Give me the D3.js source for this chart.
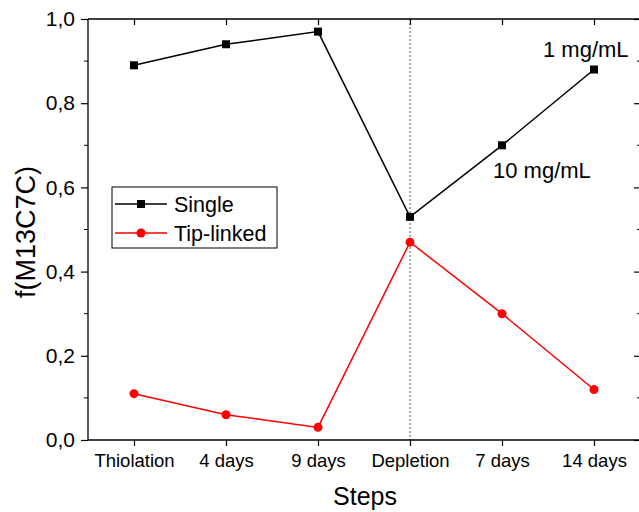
<!DOCTYPE html>
<html>
<head>
<meta charset="utf-8">
<script src="https://cdn.jsdelivr.net/npm/d3@7"></script>
<style>
  body { margin: 0; background: #fff; }
  svg { font-family: "Liberation Sans", Arial, sans-serif; }
</style>
</head>
<body>
<svg width="639" height="512"></svg>
<script>
const steps = ['Thiolation', '4 days', '9 days', 'Depletion', '7 days', '14 days'];
const single = [0.89, 0.94, 0.97, 0.53, 0.70, 0.88];
const tipLinked = [0.11, 0.06, 0.03, 0.47, 0.30, 0.12];
const yMajor = [0, 0.2, 0.4, 0.6, 0.8, 1.0];
const yMinor = [0.1, 0.3, 0.5, 0.7, 0.9];

const margin = {left: 88, top: 19, right: 640, bottom: 440};
let svg = d3.select('svg');

let x = d3.scalePoint()
  .domain(steps)
  .range([margin.left, margin.right])
  .padding(0.5);
let y = d3.scaleLinear()
  .domain([0, 1])
  .range([margin.bottom, margin.top]);

const fmt = d => d3.format('.1f')(d).replace('.', ',');

// dotted line at depletion
svg.append('line')
  .attr('x1', x('Depletion')).attr('x2', x('Depletion'))
  .attr('y1', margin.top).attr('y2', margin.bottom)
  .attr('stroke', '#555')
  .attr('stroke-width', 1)
  .attr('stroke-dasharray', '2,2');

// axes
let axisL = svg.append('g')
  .attr('transform', `translate(${margin.left},0)`)
  .call(d3.axisLeft(y).tickValues(yMajor).tickFormat(fmt).tickSize(7).tickPadding(6));
axisL.append('g').selectAll('line')
  .data(yMinor)
  .enter().append('line')
    .attr('x1', -4).attr('x2', 0)
    .attr('y1', d => y(d)).attr('y2', d => y(d))
    .attr('stroke', '#000');

let axisR = svg.append('g')
  .attr('transform', `translate(${margin.right},0)`)
  .call(d3.axisLeft(y).tickValues(yMajor).tickFormat(''));
axisR.selectAll('.tick line').attr('x2', -6);
axisR.append('g').selectAll('line')
  .data(yMinor)
  .enter().append('line')
    .attr('x1', -3).attr('x2', 0)
    .attr('y1', d => y(d)).attr('y2', d => y(d))
    .attr('stroke', '#000');

let axisB = svg.append('g')
  .attr('transform', `translate(0,${margin.bottom})`)
  .call(d3.axisBottom(x).tickSize(6).tickPadding(8));

let axisT = svg.append('g')
  .attr('transform', `translate(0,${margin.top})`)
  .call(d3.axisTop(x).tickFormat(''));
axisT.selectAll('.tick line').attr('y2', 6);

[axisL, axisR, axisB, axisT].forEach(g => {
  g.selectAll('.domain').attr('stroke', '#000').attr('stroke-width', 1.3);
  g.selectAll('.tick line').attr('stroke', '#000').attr('stroke-width', 1.2);
  g.selectAll('text').attr('fill', '#000').style('font-family', '"Liberation Sans", Arial, sans-serif');
});
axisR.select('.domain').attr('d', `M0,${margin.top}V${margin.bottom}`);
axisL.select('.domain').attr('d', `M0,${margin.top}V${margin.bottom}`);
axisB.select('.domain').attr('d', `M${margin.left},0H${margin.right}`);
axisT.select('.domain').attr('d', `M${margin.left},0H${margin.right}`);
axisL.selectAll('text').style('font-size', '21px');
axisB.selectAll('text').style('font-size', '18.5px');

// axis titles
svg.append('text')
  .attr('x', 365)
  .attr('y', 505)
  .attr('text-anchor', 'middle')
  .style('font-size', '25px')
  .text('Steps');
svg.append('text')
  .attr('transform', `translate(35,232) rotate(-90)`)
  .attr('text-anchor', 'middle')
  .style('font-size', '27px')
  .text('f(M13C7C)');

// series
let line = d3.line()
  .x((d, i) => x(steps[i]))
  .y(d => y(d));

svg.append('path')
  .attr('d', line(single))
  .attr('fill', 'none')
  .attr('stroke', '#000')
  .attr('stroke-width', 1.5);
svg.append('path')
  .attr('d', line(tipLinked))
  .attr('fill', 'none')
  .attr('stroke', '#f00')
  .attr('stroke-width', 1.5);

svg.selectAll('.sq')
  .data(single)
  .enter().append('rect')
    .classed('sq', true)
    .attr('x', (d, i) => x(steps[i]) - 4)
    .attr('y', d => y(d) - 4)
    .attr('width', 8)
    .attr('height', 8)
    .attr('fill', '#000');
svg.selectAll('.dot')
  .data(tipLinked)
  .enter().append('circle')
    .classed('dot', true)
    .attr('cx', (d, i) => x(steps[i]))
    .attr('cy', d => y(d))
    .attr('r', 4.5)
    .attr('fill', '#f00');

// annotations
svg.append('text')
  .attr('x', 543).attr('y', 57)
  .style('font-size', '22px')
  .text('1 mg/mL');
svg.append('text')
  .attr('x', 493).attr('y', 178)
  .style('font-size', '22px')
  .text('10 mg/mL');

// legend
let legend = svg.append('g').attr('transform', 'translate(112,187)');
legend.append('rect')
  .attr('width', 165).attr('height', 61)
  .attr('fill', '#fff')
  .attr('stroke', '#000')
  .attr('stroke-width', 1);
const legendItems = [
  {name: 'Single', color: '#000', shape: 'square'},
  {name: 'Tip-linked', color: '#f00', shape: 'circle'}
];
legendItems.forEach((item, i) => {
  let cy = 17 + i * 29;
  legend.append('line')
    .attr('x1', 3).attr('x2', 55)
    .attr('y1', cy).attr('y2', cy)
    .attr('stroke', item.color)
    .attr('stroke-width', 1.5);
  if (item.shape === 'square') {
    legend.append('rect')
      .attr('x', 25).attr('y', cy - 4)
      .attr('width', 8).attr('height', 8)
      .attr('fill', item.color);
  } else {
    legend.append('circle')
      .attr('cx', 29).attr('cy', cy)
      .attr('r', 4.5)
      .attr('fill', item.color);
  }
  legend.append('text')
    .attr('x', 62).attr('y', cy + 8)
    .style('font-size', '21.5px')
    .text(item.name);
});
</script>
</body>
</html>
